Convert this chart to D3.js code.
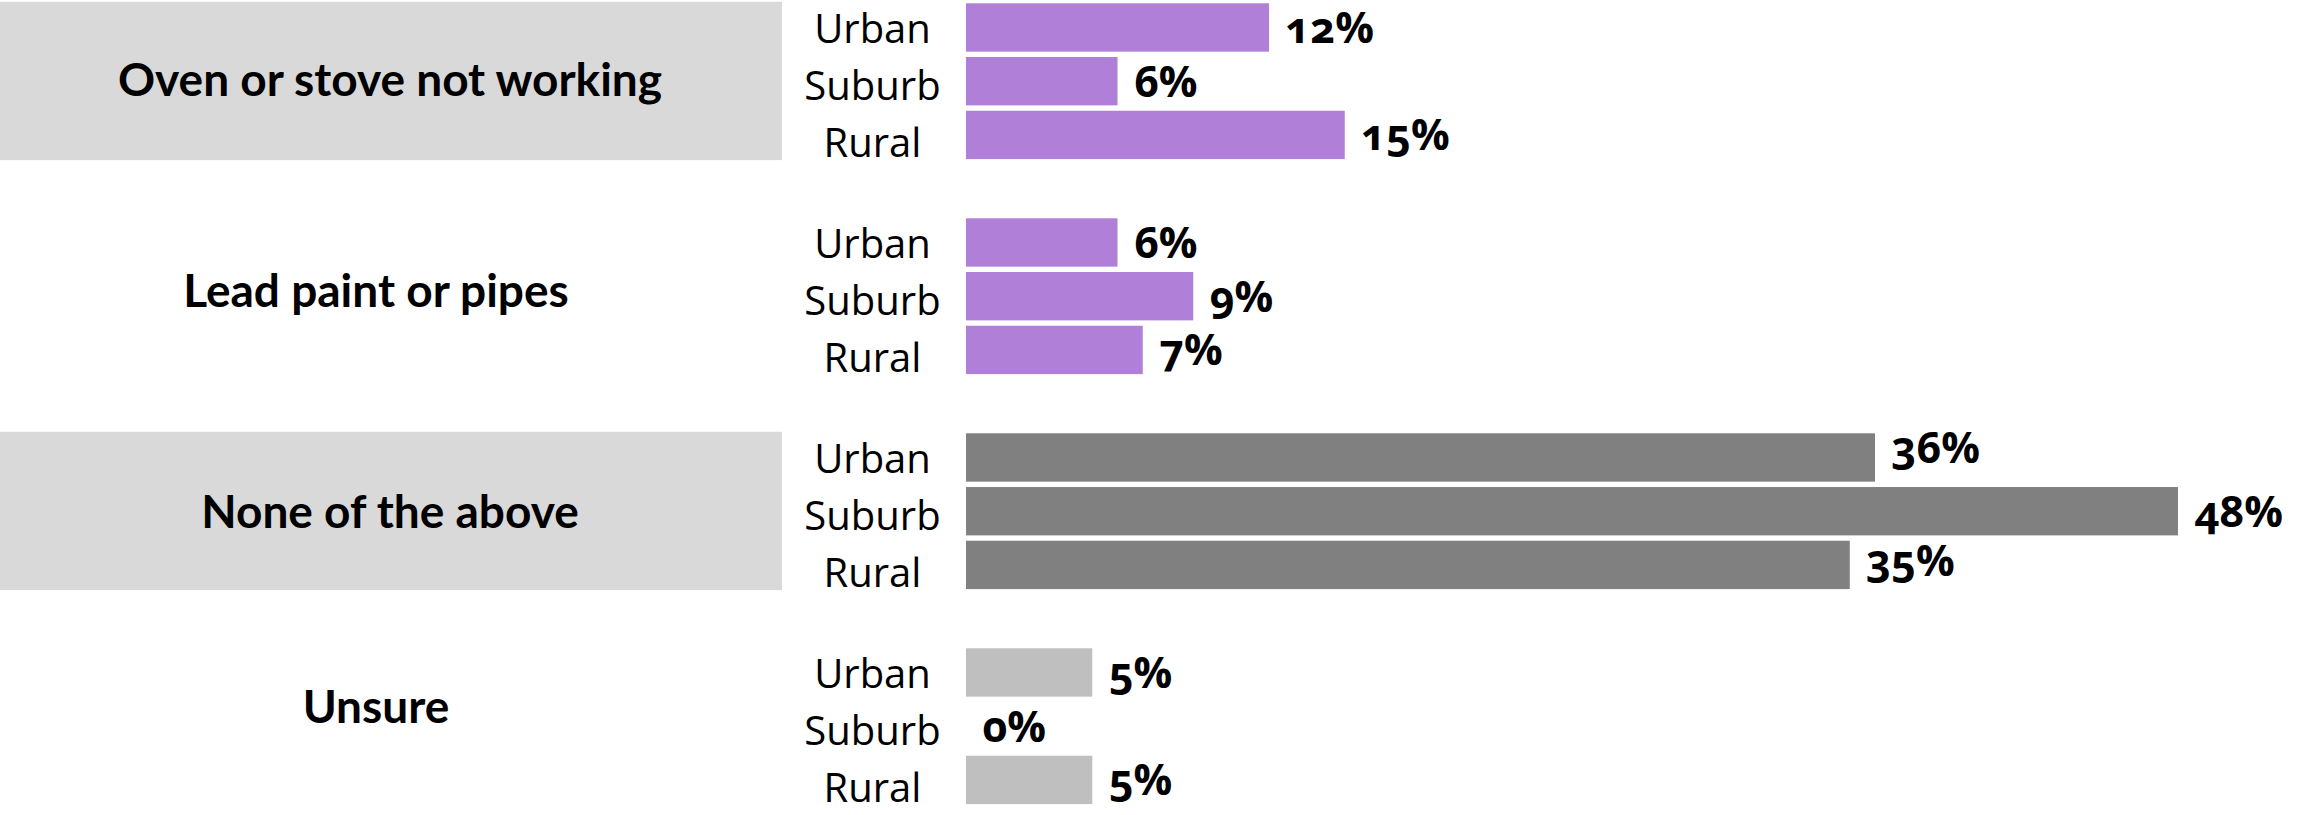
<!DOCTYPE html>
<html>
<head>
<meta charset="utf-8">
<script src="https://cdn.jsdelivr.net/npm/d3@7"></script>
<style>
  html, body { margin: 0; padding: 0; background: #ffffff; }
  svg { display: block; }
  text { fill: #000; }
  .cat { font-family: Lato, "Noto Sans", sans-serif; font-weight: 700; font-size: 46px; }
  .area { font-family: "Open Sans", "Noto Sans", sans-serif; font-weight: 400; font-size: 40px; }
  .val { font-family: "Open Sans", "Noto Sans", sans-serif; font-weight: 700; font-size: 43px;
         font-variant-numeric: oldstyle-nums; font-feature-settings: "onum" 1; }
</style>
</head>
<body>
<svg id="chart" width="2304" height="815"></svg>
<script>
// Survey categories, one block of three bars each
const categories = ["Oven or stove not working", "Lead paint or pipes", "None of the above", "Unsure"];
const areas = ["Urban", "Suburb", "Rural"];

// Percent of respondents, one array per area type (same order as categories)
const urbanValues  = [12, 6, 36, 5];
const suburbValues = [6, 9, 48, 0];
const ruralValues  = [15, 7, 35, 5];

// Bar colour per category block
const categoryColors = ["#b07fd7", "#b07fd7", "#808080", "#bfbfbf"];
// Blocks that get a shaded label panel
const shadedBlocks = [true, false, true, false];

// Small vertical nudges for hand-placed labels
const categoryLabelNudge = [-1, -5.5, 1.5, -19];
const valueLabelNudge = { "None of the above|Urban": -9.5, "None of the above|Rural": -4 };

const byArea = { Urban: urbanValues, Suburb: suburbValues, Rural: ruralValues };
const rows = [];
categories.forEach((c, i) => {
  areas.forEach(a => rows.push({ category: c, area: a, value: byArea[a][i], ci: i }));
});

const svg = d3.select("#chart");

const x = d3.scaleLinear().domain([0, 48]).range([966, 2178]);

const yGroup = d3.scaleBand()
  .domain(categories)
  .range([3.3, 804.1])
  .paddingInner(0.2753)
  .paddingOuter(0);

const yArea = d3.scaleBand()
  .domain(areas)
  .range([0, yGroup.bandwidth()])
  .paddingInner(0.1)
  .paddingOuter(0);

// Area labels sit on a slightly wider rhythm than the bars
const yAreaLabel = d3.scalePoint()
  .domain(areas)
  .range([39.4, 153.4]);

// Shaded panels behind alternating category labels
svg.append("g")
  .selectAll("rect")
  .data(categories.filter((c, i) => shadedBlocks[i]))
  .join("rect")
  .attr("x", 0)
  .attr("width", 782)
  .attr("y", d => yGroup(d) - 1.5)
  .attr("height", yGroup.bandwidth() + 2.5)
  .attr("fill", "#d9d9d9");

// Category labels (shaded cells are a little wider than the plain ones)
svg.append("g")
  .selectAll("text")
  .data(categories)
  .join("text")
  .attr("class", "cat")
  .attr("text-anchor", "middle")
  .attr("x", (d, i) => shadedBlocks[i] ? 390 : 376)
  .attr("y", (d, i) => yGroup(d) + yGroup.bandwidth() / 2 + categoryLabelNudge[i] + 15.8)
  .text(d => d);

const groups = svg.append("g")
  .selectAll("g")
  .data(categories)
  .join("g")
  .attr("transform", d => `translate(0,${yGroup(d)})`);

// Area labels
groups.selectAll("text.area")
  .data(areas)
  .join("text")
  .attr("class", "area")
  .attr("text-anchor", "middle")
  .attr("x", 872.5)
  .attr("y", d => yAreaLabel(d))
  .text(d => d);

// Bars
groups.selectAll("rect")
  .data(c => rows.filter(r => r.category === c))
  .join("rect")
  .attr("x", x(0))
  .attr("y", d => yArea(d.area))
  .attr("height", yArea.bandwidth())
  .attr("width", d => x(d.value) - x(0))
  .attr("fill", d => categoryColors[d.ci]);

// Value labels
groups.selectAll("text.val")
  .data(c => rows.filter(r => r.category === c))
  .join("text")
  .attr("class", "val")
  .attr("x", d => x(d.value) + 16.5)
  .attr("y", d => yArea(d.area) + yArea.bandwidth() / 2 + 15.5 + (valueLabelNudge[d.category + "|" + d.area] || 0))
  .text(d => d.value + "%");
</script>
</body>
</html>
